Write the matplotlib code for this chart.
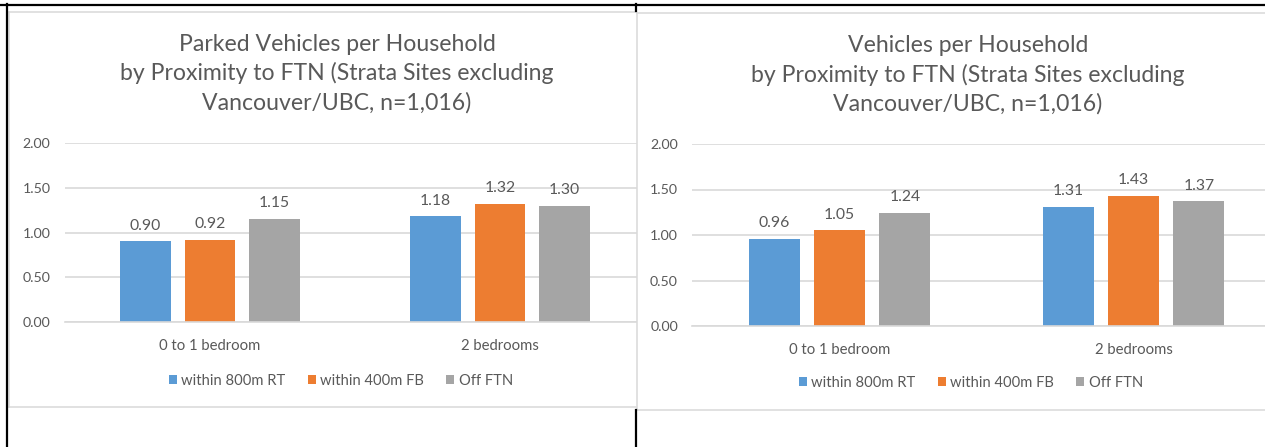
import matplotlib
matplotlib.use("Agg")
import matplotlib.pyplot as plt
from matplotlib.patches import Patch, Rectangle
from matplotlib.lines import Line2D
import numpy as np

# ---- data ----
categories = ["0 to 1 bedroom", "2 bedrooms"]
series_names = ["within 800m RT", "within 400m FB", "Off FTN"]

parked_rt = [0.90, 1.18]
parked_fb = [0.92, 1.32]
parked_off = [1.15, 1.30]

vehicles_rt = [0.96, 1.31]
vehicles_fb = [1.05, 1.43]
vehicles_off = [1.24, 1.37]

title_left = ["Parked Vehicles per Household",
              "by Proximity to FTN (Strata Sites excluding",
              "Vancouver/UBC, n=1,016)"]
title_right = ["Vehicles per Household",
               "by Proximity to FTN (Strata Sites excluding",
               "Vancouver/UBC, n=1,016)"]

y_ticks = [0.0, 0.5, 1.0, 1.5, 2.0]

# ---- style ----
colors = ["#5B9BD5", "#ED7D31", "#A5A5A5"]
text_col = "#595959"
grid_col = "#D9D9D9"
plt.rcParams["font.family"] = ["Lato", "DejaVu Sans"]

W, H = 1265, 447
fig = plt.figure(figsize=(W / 100, H / 100), dpi=100)
fig.patch.set_facecolor("white")


def fx(x):
    return x / W


def fy(y):
    return 1 - y / H


def make_axes(left, right, top, bottom, z):
    ax = fig.add_axes([fx(left), fy(bottom), (right - left) / W, (bottom - top) / H])
    ax.set_zorder(z)
    ax.patch.set_alpha(0)
    return ax


def draw_chart(ax, values):
    x = np.arange(len(categories))
    step, width = 0.222, 0.175
    for i, (vals, c) in enumerate(zip(values, colors)):
        pos = x + (i - 1) * step
        ax.bar(pos, vals, width=width, color=c, zorder=2)
        for px_, v in zip(pos, vals):
            ax.annotate(f"{v:.2f}", (px_, v), xytext=(0, 8.5),
                        textcoords="offset points", ha="center",
                        va="baseline", fontsize=11.3, color=text_col)
    ax.set_xlim(-0.5, len(categories) - 0.5)
    ax.set_ylim(0, 2)
    ax.set_yticks(y_ticks)
    ax.set_yticklabels([f"{t:.2f}" for t in y_ticks])
    ax.set_xticks(x)
    ax.set_xticklabels(categories)
    ax.yaxis.grid(True, color=grid_col, linewidth=1.2, zorder=0)
    ax.set_axisbelow(True)
    for s in ["left", "right", "top"]:
        ax.spines[s].set_visible(False)
    ax.spines["bottom"].set_color(grid_col)
    ax.spines["bottom"].set_linewidth(1.2)
    ax.tick_params(axis="y", length=0, pad=10.5, labelsize=10.2, labelcolor=text_col)
    ax.tick_params(axis="x", length=0, pad=12.5, labelsize=10.7, labelcolor=text_col)


# left chart
ax1 = make_axes(65, 645, 143, 322, 1)
draw_chart(ax1, [parked_rt, parked_fb, parked_off])

# right panel background covers the overflow of the left chart
fig.add_artist(Rectangle((fx(637), 0), 1 - fx(637), 1, transform=fig.transFigure,
                         facecolor="white", edgecolor="none", zorder=1.5))

# right chart
ax2 = make_axes(692.5, 1280.5, 144, 326, 2)
draw_chart(ax2, [vehicles_rt, vehicles_fb, vehicles_off])

# titles
for i, line in enumerate(title_left):
    fig.text(fx(337), fy(51 + 29.5 * i), line, ha="center", va="baseline",
             fontsize=16.6, color=text_col, zorder=3)
for i, line in enumerate(title_right):
    fig.text(fx(968), fy(52 + 29.5 * i), line, ha="center", va="baseline",
             fontsize=16.6, color=text_col, zorder=3)

# legends
handles = [Patch(facecolor=c, edgecolor="none") for c in colors]
for cx, cy in [(341, 381), (971, 383)]:
    leg = fig.legend(handles, series_names, loc="center",
                     bbox_to_anchor=(fx(cx), fy(cy)), ncol=3, frameon=False,
                     fontsize=10.6, handlelength=0.55, handleheight=0.55,
                     handletextpad=0.3, columnspacing=1.5, labelcolor=text_col)
    leg.set_zorder(3)

# panel borders
bl = 1.1
for (x0, y0, x1, y1) in [(9, 11.5, 636, 11.5), (9, 11.5, 9, 407), (9, 407, 636, 407),
                         (637, 13, 1265, 13), (637, 13, 637, 410), (637, 410, 1265, 410)]:
    fig.add_artist(Line2D([fx(x0), fx(x1)], [fy(y0), fy(y1)], transform=fig.transFigure,
                          color=grid_col, linewidth=bl, zorder=4))

# outer black frame lines
for (x0, y0, x1, y1) in [(0, 5, 1265, 5), (7.5, 4, 7.5, 447),
                         (636, 4, 636, 11), (636, 410, 636, 447)]:
    fig.add_artist(Line2D([fx(x0), fx(x1)], [fy(y0), fy(y1)], transform=fig.transFigure,
                          color="black", linewidth=1.6, zorder=5))

fig.savefig("out.png", dpi=100, facecolor="white")
